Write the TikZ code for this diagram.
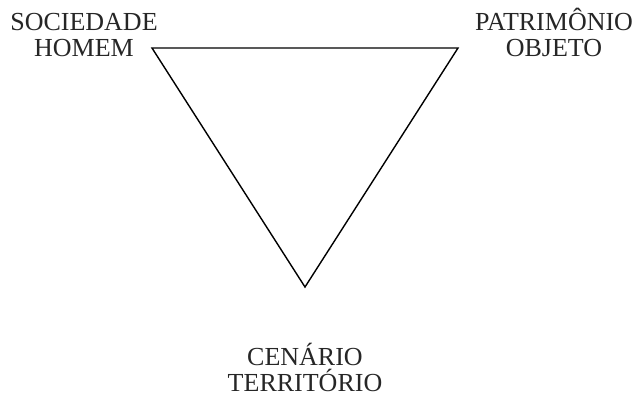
\documentclass[tikz,border=0pt]{standalone}
\usepackage{fontspec}
\setmainfont{Liberation Serif}
\begin{document}
\begin{tikzpicture}[x=1pt,y=-1pt,
  lbl/.style={align=center,inner sep=0pt,anchor=base,font=\fontsize{26}{26}\selectfont,text=black!85},
  edge/.style={draw=black,line width=1.4pt,line join=miter}]
\useasboundingbox (0,0) rectangle (641,394);
\coordinate (sh) at (152,48);
\coordinate (po) at (458,48);
\coordinate (ct) at (305,287);
\draw[edge] (sh) -- (po) -- (ct) -- cycle;
\node[lbl] (soc) at (84,56) {SOCIEDADE\\HOMEM};
\node[lbl] (pat) at (554,56) {PATRIMÔNIO\\OBJETO};
\node[lbl] (cen) at (305,391) {CENÁRIO\\TERRITÓRIO};
\end{tikzpicture}
\end{document}
